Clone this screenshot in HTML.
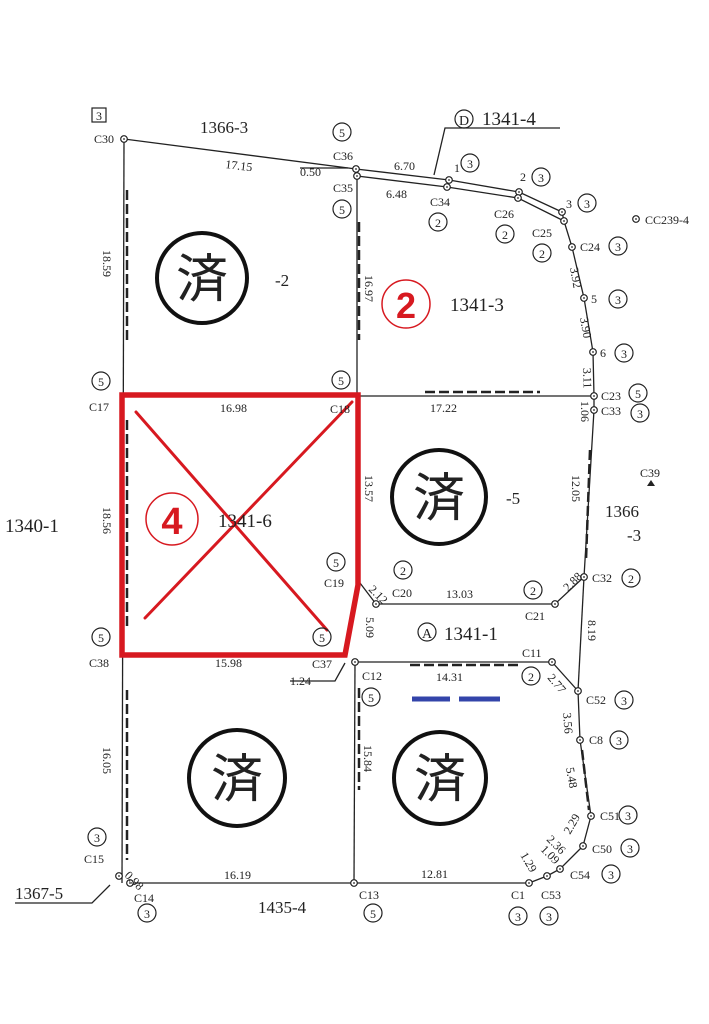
<!DOCTYPE html>
<html><head><meta charset="utf-8"><style>
html,body{margin:0;padding:0;background:#fff}
svg{display:block}
text{font-family:"Liberation Serif","Noto Serif CJK SC",serif;fill:#222}
.s{font-size:12px}
.m{font-size:17px}
.l{font-size:19px}
.cn{font-size:11px;font-family:"Liberation Sans",sans-serif}
</style></head><body>
<svg width="709" height="1024" viewBox="0 0 709 1024" xmlns="http://www.w3.org/2000/svg">
<defs>
<g id="p"><circle r="3.3" fill="#fff" stroke="#222" stroke-width="1.2"/><circle r="0.9" fill="#222"/></g>
</defs>
<g fill="none" stroke="#222" stroke-width="1.3">
<polyline points="124,139 356,169 449,180 519,192 562,212"/>
<polyline points="357,176 447,187 518,198 564,221 572,247 584,298 593,352 594,396 594,410 584,577 555,604 376,604 360,583"/>
<line x1="124" y1="139" x2="122" y2="883"/>
<line x1="130" y1="883" x2="529" y2="883"/>
<polyline points="529,883 547,876 560,869 583,846 591,816 580,740 578,691 552,662 355,662"/>
<line x1="357" y1="176" x2="357" y2="395"/>
<line x1="358" y1="396" x2="594" y2="396"/>
<line x1="355" y1="662" x2="354" y2="883"/>
<line x1="356" y1="169" x2="357" y2="176"/>
<line x1="562" y1="212" x2="564" y2="221"/>
<line x1="584" y1="577" x2="578" y2="691"/>
<polyline points="434,175 445,128 560,128"/>
<polyline points="15,903 92,903 110,885"/>
<line x1="300" y1="168" x2="348" y2="168"/>
<polyline points="290,681 335,681 345,663"/>
</g>
<g stroke="#222" stroke-width="2.5" stroke-dasharray="10,4">
<line x1="127" y1="190" x2="127" y2="340"/>
<line x1="127" y1="420" x2="127" y2="630"/>
<line x1="127" y1="690" x2="127" y2="860"/>
<line x1="359" y1="222" x2="359" y2="340"/>
<line x1="359" y1="688" x2="359" y2="790"/>
<line x1="425" y1="392" x2="540" y2="392"/>
<line x1="410" y1="665" x2="520" y2="665"/>
<line x1="590" y1="450" x2="586" y2="560"/>
<line x1="582" y1="750" x2="589" y2="810"/>
</g>
<g stroke="#3344aa" stroke-width="5">
<line x1="412" y1="699" x2="450" y2="699"/>
<line x1="459" y1="699" x2="500" y2="699"/>
</g>
<polygon points="122,395 358,395 358,585 345,655 122,655" fill="none" stroke="#d71920" stroke-width="5.5"/>
<g stroke="#d71920" stroke-width="3" stroke-linecap="round">
<line x1="136" y1="412" x2="327" y2="630"/>
<line x1="352" y1="402" x2="145" y2="618"/>
</g>
<circle cx="172" cy="519" r="26" fill="none" stroke="#d71920" stroke-width="1.5"/>
<text x="172" y="534" text-anchor="middle" style="font-family:'Liberation Sans',sans-serif;font-size:38px;font-weight:bold;fill:#d71920">4</text>
<circle cx="406" cy="304" r="24" fill="none" stroke="#d71920" stroke-width="1.5"/>
<text x="406" y="318" text-anchor="middle" style="font-family:'Liberation Sans',sans-serif;font-size:36px;font-weight:bold;fill:#d71920">2</text>
<g fill="none" stroke="#111" stroke-width="4">
<circle cx="202" cy="278" r="45"/>
<circle cx="439" cy="497" r="47"/>
<circle cx="237" cy="778" r="48"/>
<circle cx="440" cy="778" r="46"/>
</g>
<g style="font-size:52px" text-anchor="middle">
<text x="202" y="297" style="font-family:'Noto Sans CJK JP',sans-serif">済</text>
<text x="439" y="516" style="font-family:'Noto Sans CJK JP',sans-serif">済</text>
<text x="237" y="797" style="font-family:'Noto Sans CJK JP',sans-serif">済</text>
<text x="440" y="797" style="font-family:'Noto Sans CJK JP',sans-serif">済</text>
</g>
<g>
<use href="#p" x="124" y="139"/><use href="#p" x="356" y="169"/><use href="#p" x="357" y="176"/>
<use href="#p" x="449" y="180"/><use href="#p" x="447" y="187"/><use href="#p" x="519" y="192"/>
<use href="#p" x="518" y="198"/><use href="#p" x="562" y="212"/><use href="#p" x="564" y="221"/>
<use href="#p" x="572" y="247"/><use href="#p" x="584" y="298"/><use href="#p" x="593" y="352"/>
<use href="#p" x="594" y="396"/><use href="#p" x="594" y="410"/><use href="#p" x="584" y="577"/>
<use href="#p" x="555" y="604"/><use href="#p" x="376" y="604"/><use href="#p" x="355" y="662"/>
<use href="#p" x="552" y="662"/><use href="#p" x="578" y="691"/><use href="#p" x="580" y="740"/>
<use href="#p" x="591" y="816"/><use href="#p" x="583" y="846"/><use href="#p" x="560" y="869"/>
<use href="#p" x="547" y="876"/><use href="#p" x="529" y="883"/><use href="#p" x="354" y="883"/>
<use href="#p" x="130" y="883"/><use href="#p" x="119" y="876"/>
<use href="#p" x="636" y="219"/>
</g>
<polygon points="651,480 655,486 647,486" fill="#222"/>
<g fill="none" stroke="#222" stroke-width="1.2">
<circle cx="342" cy="132" r="9"/><circle cx="342" cy="209" r="9"/><circle cx="470" cy="163" r="9"/>
<circle cx="541" cy="177" r="9"/><circle cx="587" cy="203" r="9"/><circle cx="438" cy="222" r="9"/>
<circle cx="505" cy="234" r="9"/><circle cx="542" cy="253" r="9"/><circle cx="618" cy="246" r="9"/>
<circle cx="618" cy="299" r="9"/><circle cx="624" cy="353" r="9"/><circle cx="638" cy="393" r="9"/>
<circle cx="640" cy="413" r="9"/><circle cx="101" cy="381" r="9"/><circle cx="341" cy="380" r="9"/>
<circle cx="336" cy="562" r="9"/><circle cx="403" cy="570" r="9"/><circle cx="533" cy="590" r="9"/>
<circle cx="631" cy="578" r="9"/><circle cx="322" cy="637" r="9"/><circle cx="101" cy="637" r="9"/>
<circle cx="371" cy="697" r="9"/><circle cx="531" cy="676" r="9"/><circle cx="624" cy="700" r="9"/>
<circle cx="619" cy="740" r="9"/><circle cx="628" cy="815" r="9"/><circle cx="630" cy="848" r="9"/>
<circle cx="611" cy="874" r="9"/><circle cx="518" cy="916" r="9"/><circle cx="549" cy="916" r="9"/>
<circle cx="373" cy="913" r="9"/><circle cx="147" cy="913" r="9"/><circle cx="97" cy="837" r="9"/>
<circle cx="464" cy="119" r="9"/>
<circle cx="427" cy="632" r="9"/>
</g>
<rect x="92" y="108" width="14" height="14" fill="none" stroke="#222" stroke-width="1.2"/>
<g class="cn" text-anchor="middle" style="font-size:12px">
<text x="99" y="120">3</text>
<text x="342" y="137">5</text><text x="342" y="214">5</text><text x="470" y="168">3</text>
<text x="541" y="182">3</text><text x="587" y="208">3</text><text x="438" y="227">2</text>
<text x="505" y="239">2</text><text x="542" y="258">2</text><text x="618" y="251">3</text>
<text x="618" y="304">3</text><text x="624" y="358">3</text><text x="638" y="398">5</text>
<text x="640" y="418">3</text><text x="101" y="386">5</text><text x="341" y="385">5</text>
<text x="336" y="567">5</text><text x="403" y="575">2</text><text x="533" y="595">2</text>
<text x="631" y="583">2</text><text x="322" y="642">5</text><text x="101" y="642">5</text>
<text x="371" y="702">5</text><text x="531" y="681">2</text><text x="624" y="705">3</text>
<text x="619" y="745">3</text><text x="628" y="820">3</text><text x="630" y="853">3</text>
<text x="611" y="879">3</text><text x="518" y="921">3</text><text x="549" y="921">3</text>
<text x="373" y="918">5</text><text x="147" y="918">3</text><text x="97" y="842">3</text>
<text x="464" y="125" style="font-size:14px">D</text>
<text x="427" y="638" style="font-size:14px">A</text>
</g>
<g class="s" style="font-size:12px">
<text x="94" y="143">C30</text><text x="333" y="160">C36</text><text x="333" y="192">C35</text>
<text x="430" y="206">C34</text><text x="494" y="218">C26</text><text x="532" y="237">C25</text>
<text x="580" y="251">C24</text><text x="591" y="303">5</text><text x="600" y="357">6</text>
<text x="601" y="400">C23</text><text x="601" y="415">C33</text><text x="454" y="172">1</text>
<text x="520" y="181">2</text><text x="566" y="208">3</text>
<text x="89" y="411">C17</text><text x="330" y="413">C18</text><text x="324" y="587">C19</text>
<text x="392" y="597">C20</text><text x="525" y="620">C21</text><text x="592" y="582">C32</text>
<text x="89" y="667">C38</text><text x="312" y="668">C37</text><text x="362" y="680">C12</text>
<text x="522" y="657">C11</text><text x="586" y="704">C52</text><text x="589" y="744">C8</text>
<text x="600" y="820">C51</text><text x="592" y="853">C50</text><text x="570" y="879">C54</text>
<text x="541" y="899">C53</text><text x="511" y="899">C1</text><text x="359" y="899">C13</text>
<text x="134" y="902">C14</text><text x="84" y="863">C15</text>
<text x="640" y="477">C39</text><text x="645" y="224">CC239-4</text>
</g>
<g class="s" style="font-size:12px">
<text x="225" y="168" transform="rotate(7 225 168)">17.15</text>
<text x="300" y="176">0.50</text>
<text x="394" y="170">6.70</text><text x="386" y="198">6.48</text>
<text x="220" y="412">16.98</text><text x="430" y="412">17.22</text>
<text x="446" y="598">13.03</text><text x="436" y="681">14.31</text>
<text x="215" y="667">15.98</text><text x="224" y="879">16.19</text>
<text x="421" y="878">12.81</text><text x="290" y="685">1.24</text>
<text x="103" y="250" transform="rotate(90 103 250)">18.59</text>
<text x="103" y="507" transform="rotate(90 103 507)">18.56</text>
<text x="103" y="747" transform="rotate(90 103 747)">16.05</text>
<text x="365" y="275" transform="rotate(90 365 275)">16.97</text>
<text x="365" y="475" transform="rotate(90 365 475)">13.57</text>
<text x="366" y="617" transform="rotate(90 366 617)">5.09</text>
<text x="364" y="745" transform="rotate(90 364 745)">15.84</text>
<text x="570" y="268" transform="rotate(80 570 268)">3.92</text>
<text x="580" y="318" transform="rotate(80 580 318)">3.90</text>
<text x="583" y="368" transform="rotate(88 583 368)">3.11</text>
<text x="581" y="401" transform="rotate(90 581 401)">1.06</text>
<text x="572" y="475" transform="rotate(90 572 475)">12.05</text>
<text x="588" y="620" transform="rotate(90 588 620)">8.19</text>
<text x="568" y="592" transform="rotate(-45 568 592)">2.88</text>
<text x="368" y="590" transform="rotate(45 368 590)">2.12</text>
<text x="547" y="678" transform="rotate(50 547 678)">2.77</text>
<text x="563" y="713" transform="rotate(85 563 713)">3.56</text>
<text x="566" y="768" transform="rotate(80 566 768)">5.48</text>
<text x="570" y="835" transform="rotate(-60 570 835)">2.29</text>
<text x="546" y="840" transform="rotate(45 546 840)">2.36</text>
<text x="540" y="850" transform="rotate(45 540 850)">1.09</text>
<text x="520" y="855" transform="rotate(60 520 855)">1.29</text>
<text x="124" y="876" transform="rotate(45 124 876)">0.98</text>
</g>
<g class="m">
<text x="200" y="133">1366-3</text>
<text x="482" y="125" style="font-size:19px">1341-4</text>
<text x="275" y="286">-2</text>
<text x="450" y="311" style="font-size:19px">1341-3</text>
<text x="218" y="527" style="font-size:19px">1341-6</text>
<text x="506" y="504">-5</text>
<text x="5" y="532" style="font-size:19px">1340-1</text>
<text x="605" y="517">1366</text><text x="627" y="541">-3</text>
<text x="444" y="640" style="font-size:19px">1341-1</text>
<text x="258" y="913">1435-4</text>
<text x="15" y="899">1367-5</text>
</g>
</svg>
</body></html>
